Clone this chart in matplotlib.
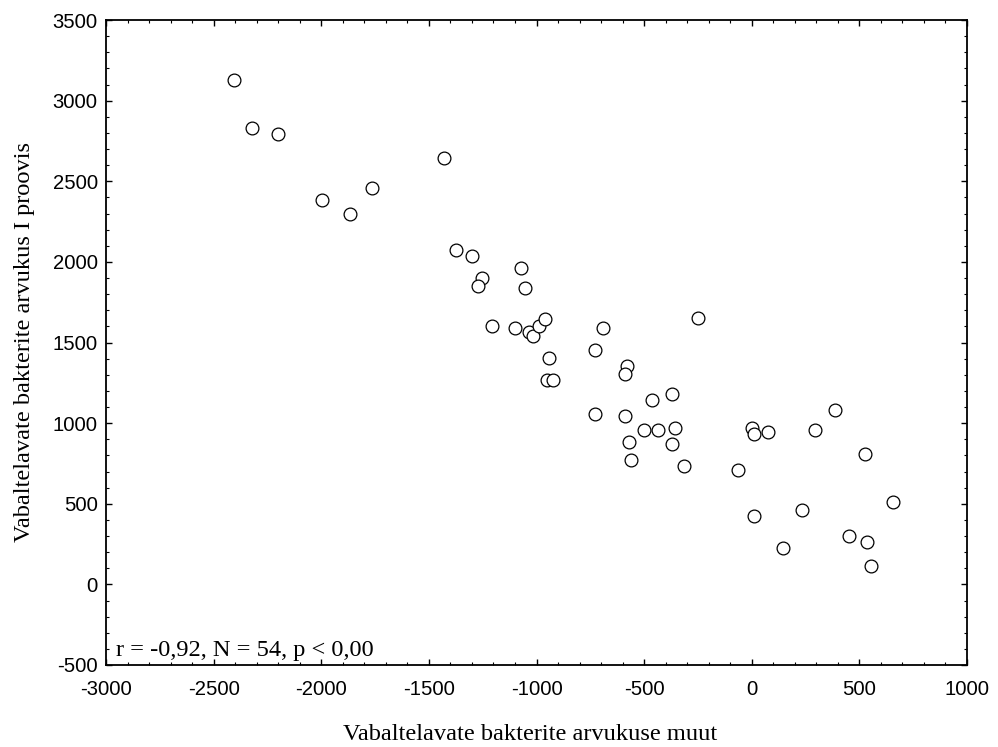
import matplotlib
matplotlib.use("Agg")
import matplotlib.pyplot as plt
from matplotlib.ticker import MultipleLocator

plt.rcParams["axes.unicode_minus"] = False

# Data
x_change = [-2404, -2320, -2199, -1997, -1866, -1763, -1430, -1374, -1298, -1253,
            -1272, -1205, -1072, -1054, -1102, -1035, -1017, -987, -961, -942,
            -952, -922, -690, -729, -579, -589, -252, -372, -465, -729,
            -589, -502, -437, -355, -372, -569, -559, -317, -64, 3,
            12, 77, 292, 385, 525, 655, 12, 235, 143, 450,
            534, 553]
y_count = [3128, 2830, 2793, 2384, 2299, 2458, 2646, 2074, 2036, 1900,
           1852, 1604, 1962, 1836, 1592, 1567, 1540, 1604, 1644, 1406,
           1267, 1267, 1592, 1453, 1356, 1307, 1654, 1181, 1143, 1057,
           1044, 957, 957, 968, 871, 885, 771, 734, 709, 972,
           931, 947, 957, 1083, 809, 511, 424, 461, 227, 302,
           265, 114]

x_ticks = [-3000, -2500, -2000, -1500, -1000, -500, 0, 500, 1000]
y_ticks = [-500, 0, 500, 1000, 1500, 2000, 2500, 3000, 3500]

x_label = "Vabaltelavate bakterite arvukuse muut"
y_label = "Vabaltelavate bakterite arvukus I proovis"
stats_text = "r = -0,92, N = 54, p < 0,00"

fig = plt.figure(figsize=(9.98, 7.47), dpi=100)
ax = fig.add_axes([106 / 998, 1 - 665 / 747, (967 - 106) / 998, (665 - 20) / 747])

ax.plot(x_change, y_count, linestyle="none", marker="o", markersize=9.2,
        markerfacecolor="white", markeredgecolor="black", markeredgewidth=0.9)

ax.set_xlim(x_ticks[0], x_ticks[-1])
ax.set_ylim(y_ticks[0], y_ticks[-1])
ax.set_xticks(x_ticks)
ax.set_yticks(y_ticks)
ax.set_xticklabels([str(v) for v in x_ticks])
ax.set_yticklabels([str(v) for v in y_ticks])
ax.xaxis.set_minor_locator(MultipleLocator(100))
ax.yaxis.set_minor_locator(MultipleLocator(100))

ax.tick_params(which="both", direction="in", top=True, right=True, color="black")
ax.tick_params(which="major", length=4, width=1.0)
ax.tick_params(which="minor", length=2.2, width=0.8)
ax.tick_params(axis="x", which="major", pad=11)
ax.tick_params(axis="y", which="major", pad=6)

for lab in ax.get_xticklabels() + ax.get_yticklabels():
    lab.set_fontfamily("Liberation Sans")
    lab.set_fontsize(14.6)

for sp in ax.spines.values():
    sp.set_linewidth(1.3)

ax.set_xlabel(x_label, fontfamily="Liberation Serif", fontsize=17.6)
ax.xaxis.set_label_coords(0.4925, -0.108)
ax.xaxis.label.set_verticalalignment("center")

ax.set_ylabel(y_label, fontfamily="Liberation Serif", fontsize=17.6)
ax.yaxis.set_label_coords(-0.095, 0.5)
ax.yaxis.label.set_verticalalignment("center")

ax.text(0.012, 0.0135, stats_text, transform=ax.transAxes,
        fontfamily="Liberation Serif", fontsize=17.6, ha="left", va="baseline")

fig.savefig("out.png", dpi=100)
